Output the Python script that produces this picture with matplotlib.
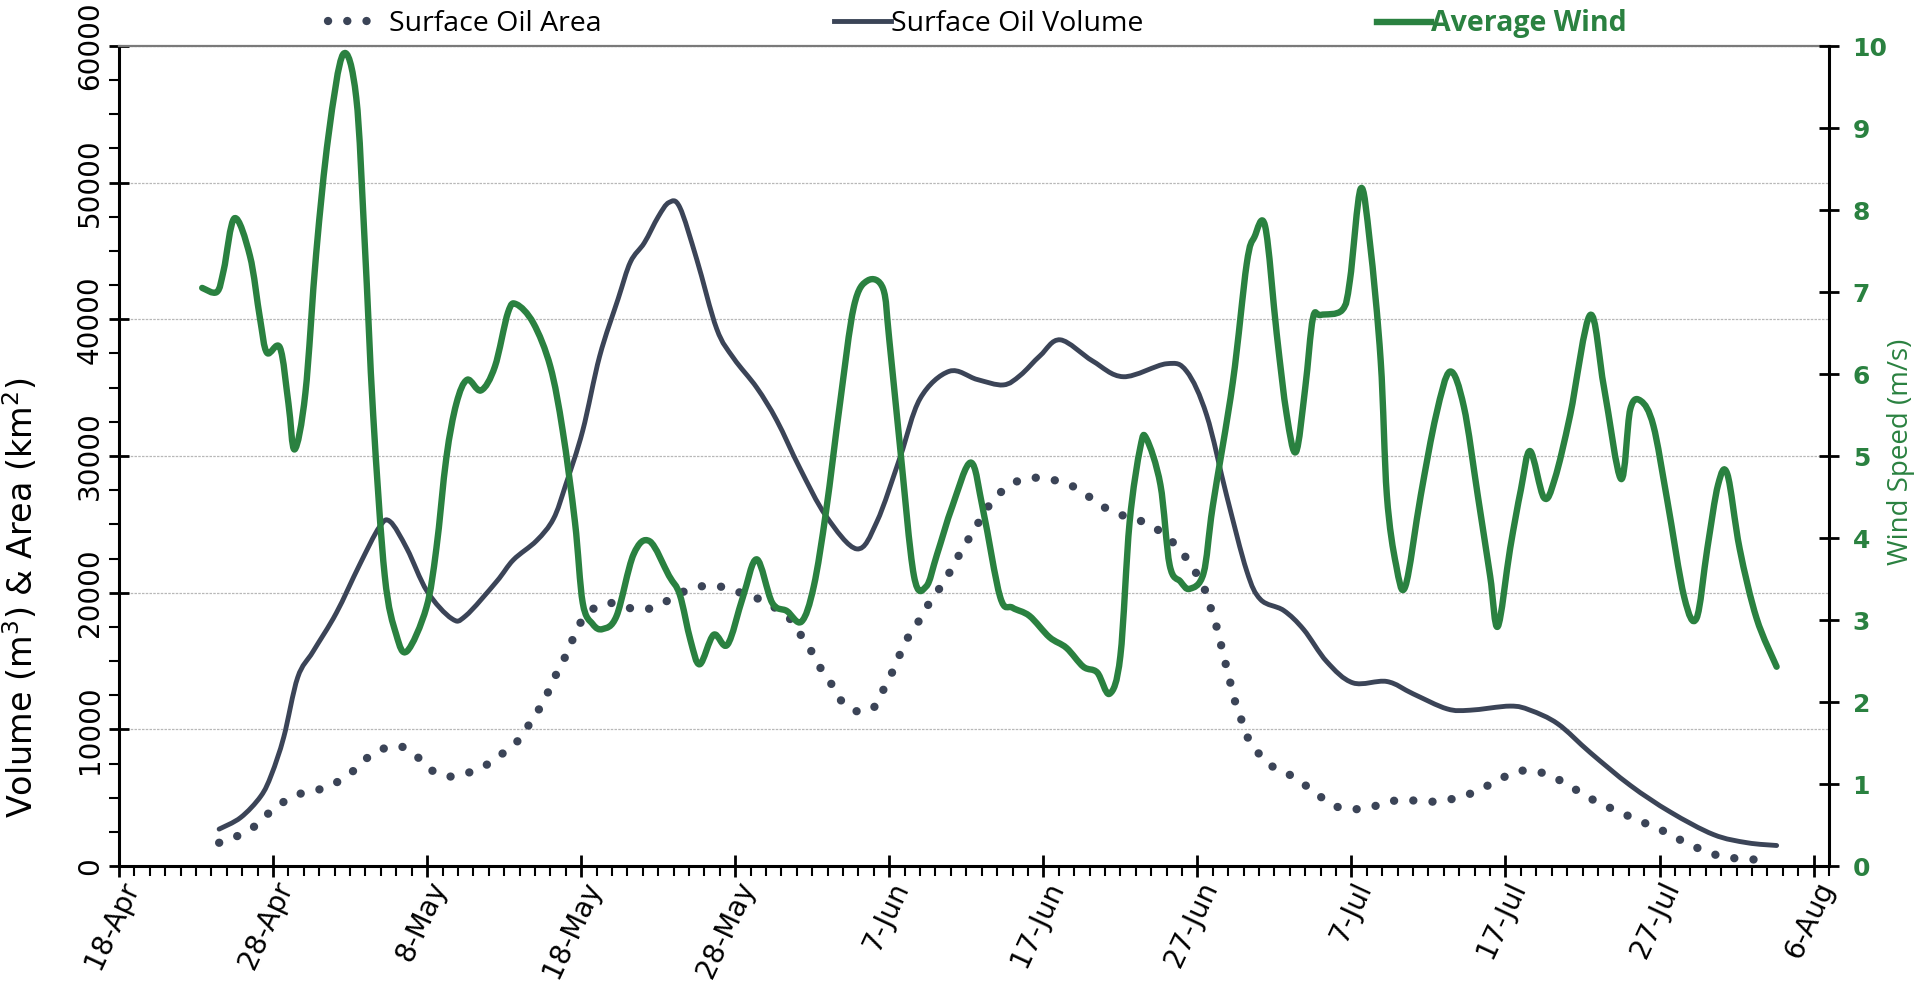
import numpy as np
import pandas as pd
import matplotlib
matplotlib.use('Agg')
import matplotlib.pyplot as plt
import matplotlib.dates as mdates
from matplotlib.ticker import MultipleLocator, FixedLocator, FuncFormatter
from matplotlib.lines import Line2D
from matplotlib.path import Path
from matplotlib.patches import PathPatch

# --- data (days counted from 18-Apr-2010) ---
vol_day = [6.5, 7.9, 9.2, 9.9, 10.7, 11.6, 12.6, 14.1, 15.6, 16.9, 17.6, 18.7,
           20.0, 21.6, 22.5, 24.5, 25.6, 27.1, 28.2, 29.0, 30.1, 31.2, 32.4,
           33.2, 34.1, 35.0, 35.7, 36.4, 37.5, 38.8, 39.9, 41.4, 42.7, 44.2,
           45.9, 47.9, 49.2, 50.7, 52.0, 53.9, 55.7, 57.4, 58.5, 59.8, 61.1,
           63.2, 65.2, 68.0, 69.3, 70.6, 71.9, 73.2, 74.1, 75.6, 76.9, 78.4,
           80.1, 82.3, 84.0, 86.2, 87.7, 90.3, 91.6, 93.4, 95.5, 98.1, 100.7,
           103.5, 105.7, 107.6]
vol = [2700, 3550, 5100, 6700, 9450, 13800, 15700, 18500, 22000, 24800, 25200,
       23200, 20100, 18100, 18300, 20800, 22400, 23800, 25400, 27900, 31850,
       37300, 41500, 44200, 45600, 47500, 48550, 48200, 44400, 39300, 37150,
       35000, 32600, 29100, 25600, 23200, 25200, 29900, 34200, 36200, 35600,
       35200, 35900, 37350, 38500, 36950, 35800, 36750, 36200, 33000, 27100,
       21600, 19500, 18700, 17300, 14950, 13400, 13500, 12600, 11500, 11400,
       11700, 11400, 10400, 8300, 5900, 3950, 2300, 1700, 1500]

area_day = [6.5, 7.7, 8.8, 9.7, 10.7, 11.8, 13.0, 14.1, 15.2, 16.1, 17.2, 18.3,
            19.4, 20.3, 21.4, 22.6, 23.7, 24.8, 25.8, 26.5, 27.2, 27.8, 28.3,
            28.9, 29.4, 29.9, 30.7, 31.8, 33.0, 34.3, 35.5, 36.6, 37.7, 39.0,
            40.2, 41.4, 42.5, 43.5, 44.2, 44.9, 45.5, 46.2, 46.8, 47.8, 48.9,
            49.5, 50.1, 50.6, 51.1, 51.8, 52.4, 53.1, 53.8, 54.4, 55.0, 55.7,
            56.3, 57.1, 58.1, 59.3, 60.4, 61.7, 62.8, 63.8, 64.9, 66.1, 67.3,
            68.3, 69.1, 69.8, 70.4, 70.8, 71.2, 71.5, 71.8, 72.1, 72.4, 72.8,
            73.2, 73.9, 74.7, 75.8, 76.9, 77.9, 78.9, 80.1, 81.4, 82.6, 83.9,
            85.1, 86.3, 87.5, 88.7, 89.8, 90.9, 92.1, 93.3, 94.4, 95.5, 96.6,
            97.7, 98.8, 100.0, 101.1, 102.2, 103.4, 104.6, 105.8, 107.1]
area = [1700, 2200, 2900, 3850, 4700, 5300, 5600, 6100, 6950, 7900, 8600, 8750,
        7950, 7000, 6550, 6800, 7300, 8150, 9050, 10150, 11350, 12600, 13850,
        15150, 16450, 17700, 18750, 19250, 18900, 18800, 19350, 20050, 20450,
        20450, 20050, 19600, 18950, 18150, 17000, 15800, 14550, 13400, 12200,
        11350, 11500, 12650, 13950, 15250, 16500, 17700, 18900, 20050, 21250,
        22500, 23650, 24950, 26100, 27200, 28050, 28400, 28300, 27900, 27150,
        26350, 25750, 25350, 24700, 23800, 22800, 21650, 20450, 19100, 17700,
        16350, 14950, 13600, 12200, 10900, 9550, 8350, 7400, 6800, 6000, 5150,
        4400, 4150, 4350, 4750, 4800, 4700, 4850, 5200, 5800, 6450, 6950, 6900,
        6400, 5700, 4950, 4350, 3800, 3250, 2700, 2050, 1450, 900, 600, 500, 400]

wind_day = [5.4, 6.35, 6.8, 7.5, 8.5, 9.15, 9.6, 10.45, 11.0, 11.4, 12.1, 12.8,
            13.6, 14.55, 15.4, 15.95, 16.5, 17.25, 18.0, 18.7, 19.95, 20.6,
            21.25, 21.9, 22.6, 23.5, 24.4, 25.25, 25.8, 26.9, 28.0, 28.8, 29.6,
            30.1, 30.75, 31.4, 32.3, 33.4, 34.45, 35.7, 36.4, 37.1, 37.7, 38.6,
            39.5, 40.5, 41.4, 42.4, 43.35, 44.3, 45.1, 45.9, 46.8, 47.7, 48.6,
            49.6, 50.0, 50.7, 51.6, 52.4, 53.1, 54.1, 55.3, 56.1, 57.2, 58.0,
            59.1, 60.4, 61.5, 62.6, 63.5, 64.3, 65.0, 65.6, 66.3, 66.7, 67.6,
            68.2, 68.9, 69.5, 70.4, 71.0, 72.3, 73.2, 73.7, 74.4, 75.15, 75.8,
            76.4, 77.0, 77.5, 78.0, 79.4, 79.9, 80.6, 81.2, 81.9, 82.3, 82.9,
            83.5, 84.5, 85.5, 86.4, 87.3, 88.2, 89.0, 89.5, 90.3, 91.0, 91.6,
            92.5, 93.2, 94.2, 95.5, 96.4, 97.5, 98.1, 98.8, 99.6, 100.5, 101.6,
            102.4, 103.1, 103.8, 104.4, 105.2, 106.3, 107.6]
wind = [7.05, 7.0, 7.27, 7.9, 7.44, 6.68, 6.26, 6.32, 5.64, 5.08, 5.77, 7.47,
        8.91, 9.9, 9.37, 7.6, 5.5, 3.54, 2.82, 2.62, 3.15, 3.87, 4.98, 5.64,
        5.93, 5.8, 6.09, 6.75, 6.85, 6.62, 6.09, 5.31, 4.19, 3.21, 2.95, 2.89,
        3.05, 3.8, 3.96, 3.54, 3.31, 2.75, 2.46, 2.82, 2.7, 3.28, 3.74, 3.21,
        3.11, 2.98, 3.41, 4.33, 5.64, 6.82, 7.14, 7.04, 6.42, 5.11, 3.54, 3.41,
        3.8, 4.39, 4.92, 4.33, 3.28, 3.15, 3.05, 2.79, 2.66, 2.43, 2.36, 2.1,
        2.56, 4.19, 5.11, 5.21, 4.65, 3.67, 3.47, 3.38, 3.57, 4.39, 5.9, 7.34,
        7.67, 7.8, 6.49, 5.5, 5.05, 5.83, 6.68, 6.72, 6.78, 7.14, 8.26, 7.6,
        6.16, 4.52, 3.67, 3.41, 4.52, 5.5, 6.03, 5.6, 4.52, 3.54, 2.92, 3.87,
        4.59, 5.06, 4.49, 4.72, 5.5, 6.72, 5.83, 4.72, 5.57, 5.67, 5.37, 4.46,
        3.28, 3.02, 3.87, 4.65, 4.78, 3.87, 3.02, 2.43]

start = pd.Timestamp('2010-04-18')


def to_num(days):
    return mdates.date2num(start + pd.to_timedelta(np.array(days), unit='D'))


def smooth_path(x, y):
    # cubic bezier through every point (spreadsheet style smoothed line)
    x = np.asarray(x, float)
    y = np.asarray(y, float)
    n = len(x)
    verts = [(x[0], y[0])]
    for i in range(n - 1):
        a = max(i - 1, 0)
        b = min(i + 2, n - 1)
        c1 = (x[i] + (x[i + 1] - x[a]) / 6, y[i] + (y[i + 1] - y[a]) / 6)
        c2 = (x[i + 1] - (x[b] - x[i]) / 6, y[i + 1] - (y[b] - y[i]) / 6)
        verts += [c1, c2, (x[i + 1], y[i + 1])]
    codes = [Path.MOVETO] + [Path.CURVE4] * (3 * (n - 1))
    return Path(verts, codes)


dark = '#3b4457'
green = '#2a8140'
dots = (0, (0.01, 2.3))

fig = plt.figure(figsize=(19.2, 9.88), dpi=100)
ax = fig.add_axes([119 / 1920, 1 - 866 / 988, (1829 - 119) / 1920, (866 - 46) / 988])
ax2 = ax.twinx()

ax.set_xlim(start, start + pd.Timedelta(days=111))
ax.set_ylim(0, 60000)
ax2.set_ylim(0, 10)

area_line = PathPatch(smooth_path(to_num(area_day), area), fill=False,
                      edgecolor=dark, lw=6.0, linestyle=dots, capstyle='round',
                      zorder=3)
ax.add_patch(area_line)
vol_line = PathPatch(smooth_path(to_num(vol_day), vol), fill=False,
                     edgecolor=dark, lw=3.5, joinstyle='round', capstyle='round',
                     zorder=3)
ax.add_patch(vol_line)
wind_line = PathPatch(smooth_path(to_num(wind_day), wind), fill=False,
                      edgecolor=green, lw=4.6, joinstyle='round',
                      capstyle='round')
ax2.add_patch(wind_line)

# x axis: 10-day major ticks, daily minor ticks
xmaj = pd.date_range('2010-04-18', periods=12, freq='10D')
ax.xaxis.set_major_locator(FixedLocator(mdates.date2num(xmaj)))
ax.xaxis.set_minor_locator(mdates.DayLocator())
ax.xaxis.set_major_formatter(FuncFormatter(
    lambda v, p: mdates.num2date(v).strftime('%-d-%b')))
for lab in ax.get_xticklabels():
    lab.set_rotation(65)
    lab.set_ha('right')
    lab.set_va('top')
    lab.set_rotation_mode('anchor')
    lab.set_fontsize(20)

# left axis
ax.yaxis.set_major_locator(MultipleLocator(10000))
ax.yaxis.set_minor_locator(MultipleLocator(2500))
for lab in ax.get_yticklabels():
    lab.set_rotation(90)
    lab.set_va('center')
    lab.set_fontsize(20)
ax.set_ylabel('Volume (m$^3$) & Area (km$^2$)', fontsize=24)
ax.yaxis.set_label_coords(-0.046, 0.327)
ax.grid(axis='y', which='major', color='#b8b8b8', lw=0.9, linestyle=(0, (2, 1)))
ax.set_axisbelow(True)

ax.tick_params(axis='x', which='major', direction='inout', length=16, width=2, pad=0)
ax.tick_params(axis='x', which='minor', direction='out', length=7, width=1.5)
ax.tick_params(axis='y', which='major', direction='inout', length=14, width=2, pad=4)
ax.tick_params(axis='y', which='minor', direction='out', length=7, width=1.5)

# right axis for wind
ax2.yaxis.set_major_locator(MultipleLocator(1))
ax2.tick_params(axis='y', direction='inout', length=14, width=2, pad=10,
                labelcolor=green, labelsize=18)
for lab in ax2.get_yticklabels():
    lab.set_fontweight('bold')
ax2.set_ylabel('Wind Speed (m/s)', color=green, fontsize=20, family='Open Sans')
ax2.yaxis.set_label_coords(1.034, 0.505)

for s in ['left', 'bottom']:
    ax.spines[s].set_linewidth(2.2)
    ax.spines[s].set_color('black')
ax.spines['right'].set_visible(False)
ax.spines['top'].set_color('#7a7a7a')
ax.spines['top'].set_linewidth(1.6)
for s in ['left', 'bottom', 'top']:
    ax2.spines[s].set_visible(False)
ax2.spines['right'].set_linewidth(2.2)
ax2.spines['right'].set_color('black')

# legend entries along the top
items = [
    (Line2D([], [], color=dark, lw=6.0, linestyle=dots, dash_capstyle='round'),
     'Surface Oil Area', 328, 1.65, 0.5),
    (Line2D([], [], color=dark, lw=3.5), 'Surface Oil Volume', 834, 2.0, 0.0),
    (Line2D([], [], color=green, lw=4.6), 'Average Wind', 1377, 1.9, 0.0),
]
for h, txt, x0, hl, pad in items:
    leg = fig.legend([h], [txt], loc='center left',
                     bbox_to_anchor=(x0 / 1920, 1 - 24 / 988),
                     frameon=False, borderpad=0, borderaxespad=0,
                     handlelength=hl, handletextpad=pad,
                     prop={'family': 'Open Sans', 'size': 20.5})
    if txt == 'Average Wind':
        leg.get_texts()[0].set_color(green)
        leg.get_texts()[0].set_fontweight('bold')

fig.savefig('out.png', dpi=100)
